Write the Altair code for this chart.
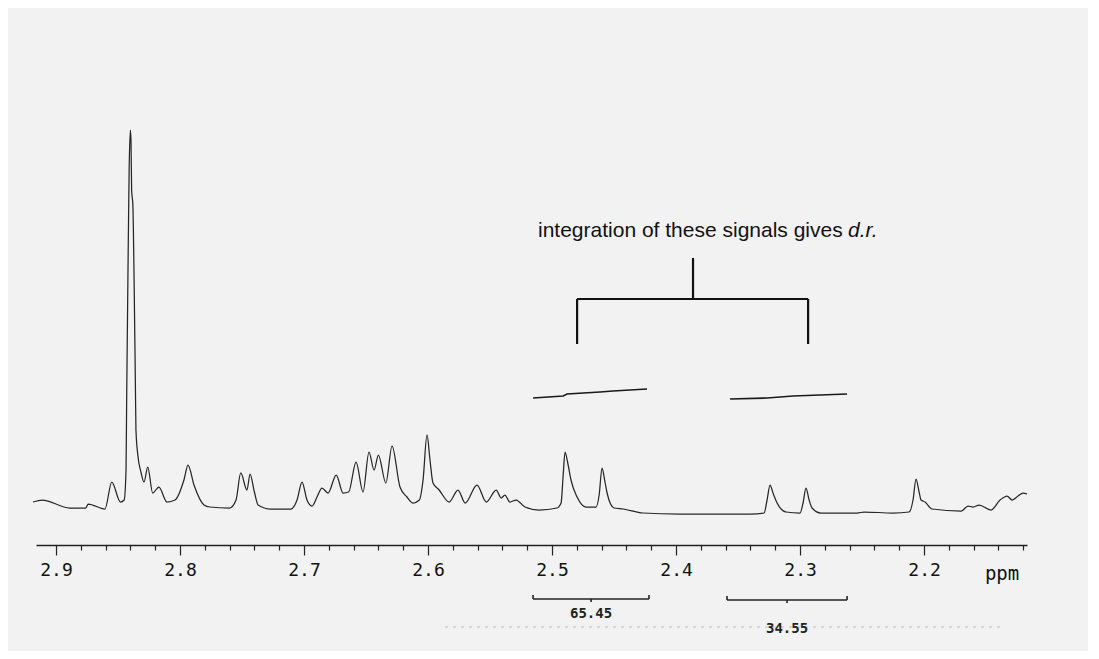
import altair as alt
import pandas as pd

# ---- spectrum trace (chemical shift in ppm, intensity in arbitrary units) ----
PPM = [2.9185, 2.911, 2.889, 2.876, 2.874, 2.8605, 2.855, 2.848, 2.845, 2.8435,
       2.843, 2.842, 2.841, 2.840, 2.8395, 2.839, 2.838, 2.837, 2.836, 2.8355,
       2.834, 2.8315, 2.829, 2.826, 2.822, 2.817, 2.8105, 2.804, 2.7968, 2.7935,
       2.7887, 2.7806, 2.776, 2.760, 2.7548, 2.751, 2.746, 2.7435, 2.740, 2.737,
       2.727, 2.7105, 2.7056, 2.7016, 2.6976, 2.6935, 2.6895, 2.6855, 2.6806, 2.674,
       2.6685, 2.664, 2.658, 2.6524, 2.6476, 2.6435, 2.640, 2.634, 2.629, 2.6226,
       2.617, 2.612, 2.607, 2.604, 2.6008, 2.5984, 2.596, 2.591, 2.583, 2.5758,
       2.570, 2.5605, 2.553, 2.545, 2.541, 2.538, 2.534, 2.529, 2.5218, 2.5105,
       2.496, 2.4927, 2.491, 2.4895, 2.487, 2.4847, 2.4798, 2.4726, 2.4645, 2.462,
       2.4597, 2.4573, 2.4556, 2.450, 2.4427, 2.4266, 2.3976, 2.3403, 2.329, 2.3266,
       2.3242, 2.3218, 2.3185, 2.3113, 2.300, 2.2976, 2.2952, 2.2927, 2.2903, 2.2831,
       2.254, 2.2484, 2.225, 2.2121, 2.2089, 2.2065, 2.204, 2.2024, 2.1992, 2.1935,
       2.170, 2.1645, 2.1605, 2.1556, 2.146, 2.1387, 2.1331, 2.129, 2.1242, 2.1202,
       2.1169]
INTENSITY = [18, 20, 12, 12, 16, 11, 38, 18, 20, 50,
             120, 240, 350, 390, 380, 330, 315, 240, 140, 90,
             65, 48, 38, 53, 27, 33, 18, 20, 40, 55,
             35, 15, 13, 12, 20, 47, 30, 46, 28, 15,
             11, 11, 20, 38, 20, 14, 23, 32, 27, 45,
             27, 28, 58, 28, 68, 50, 65, 37, 74, 33,
             23, 17, 20, 40, 85, 60, 37, 30, 18, 30,
             17, 35, 18, 30, 22, 25, 18, 20, 13, 10,
             12, 17, 45, 68, 55, 40, 23, 13, 13, 25,
             52, 38, 27, 12, 11, 7, 6, 6, 7, 20,
             35, 27, 17, 8, 7, 17, 32, 20, 12, 7,
             7, 8, 7, 8, 20, 41, 28, 20, 18, 11,
             9, 14, 13, 15, 10, 20, 24, 20, 24, 27,
             26]

# ---- axis ticks ----
MAJOR_TICKS = [2.9, 2.8, 2.7, 2.6, 2.5, 2.4, 2.3, 2.2]
MINOR_TICKS = [2.90, 2.88, 2.86, 2.84, 2.82, 2.80, 2.78, 2.76, 2.74, 2.72,
               2.70, 2.68, 2.66, 2.64, 2.62, 2.60, 2.58, 2.56, 2.54, 2.52,
               2.50, 2.48, 2.46, 2.44, 2.42, 2.40, 2.38, 2.36, 2.34, 2.32,
               2.30, 2.28, 2.26, 2.24, 2.22, 2.20, 2.18, 2.16, 2.14, 2.12]

# ---- annotation: bracket over the two signals ----
BR_X = [2.3863, 2.4798, 2.4798, 2.2935]
BR_X2 = [2.3863, 2.2935, 2.4798, 2.2935]
BR_Y = [262, 221, 221, 221]
BR_Y2 = [221, 221, 176, 176]

ANNOT_TEXT = ["integration of these signals gives ", "d.r."]
ANNOT_X = [2.5113, 2.2613]
ANNOT_Y = [283, 283]
ANNOT_STYLE = ["normal", "italic"]

# ---- integral traces ----
INT_SEG = ["a", "a", "a", "a", "a", "a", "b", "b", "b", "b"]
INT_PPM = [2.5153, 2.491, 2.4879, 2.4613, 2.4508, 2.4234, 2.3565, 2.3266, 2.3056, 2.2621]
INT_VAL = [122, 124, 126, 128, 129, 131, 121, 122, 124, 126]

# ---- integral readout brackets below axis ----
RO_X = [2.5153, 2.5153, 2.4218, 2.4685, 2.3589, 2.3589, 2.2621, 2.3105]
RO_X2 = [2.4218, 2.5153, 2.4218, 2.4685, 2.2621, 2.3589, 2.2621, 2.3105]
RO_Y = [-79, -79, -79, -79, -80, -80, -80, -80]
RO_Y2 = [-79, -75, -75, -82, -80, -76, -76, -83]
RO_LABEL = ["65.45", "34.55"]
RO_LABEL_X = [2.4685, 2.3105]
RO_LABEL_Y = [-98, -113]

UNIT_LABEL = ["ppm"]
UNIT_X = [2.1371]
UNIT_Y = [-60]

SCAN_LINE_X = [2.5863]
SCAN_LINE_X2 = [2.1387]
SCAN_LINE_Y = [-107]

spec = pd.DataFrame({"ppm": PPM, "I": INTENSITY})
br = pd.DataFrame({"x": BR_X, "x2": BR_X2, "y": BR_Y, "y2": BR_Y2})
ann = pd.DataFrame({"t": ANNOT_TEXT, "x": ANNOT_X, "y": ANNOT_Y, "s": ANNOT_STYLE})
integ = pd.DataFrame({"seg": INT_SEG, "ppm": INT_PPM, "v": INT_VAL})
ro = pd.DataFrame({"x": RO_X, "x2": RO_X2, "y": RO_Y, "y2": RO_Y2})
rol = pd.DataFrame({"t": RO_LABEL, "x": RO_LABEL_X, "y": RO_LABEL_Y})
unit = pd.DataFrame({"t": UNIT_LABEL, "x": UNIT_X, "y": UNIT_Y})
scan = pd.DataFrame({"x": SCAN_LINE_X, "x2": SCAN_LINE_X2, "y": SCAN_LINE_Y})

xs = alt.Scale(domain=[2.117, 2.9161], reverse=True, nice=False, zero=False)
ys = alt.Scale(domain=[-25, 510], nice=False, zero=False)

major_test = "abs(datum.value*10 - round(datum.value*10)) < 0.001"
x_axis = alt.Axis(
    values=MINOR_TICKS,
    labelExpr=f"{major_test} ? format(datum.value, '.1f') : ''",
    tickSize={"condition": {"test": major_test, "value": 10}, "value": 5},
    tickColor="#222", tickWidth=1.2,
    domainColor="#222", domainWidth=1.6,
    labelFont="DejaVu Sans Mono", labelFontSize=18, labelColor="#111",
    labelPadding=6, labelOverlap=False, labelFlush=False,
    grid=False, title=None, orient="bottom",
)


def X(field):
    return alt.X(field, scale=xs, axis=x_axis)


def Y(field):
    return alt.Y(field, scale=ys, axis=None)


spectrum = alt.Chart(spec).mark_line(
    color="#262626", strokeWidth=1.25, interpolate="monotone"
).encode(x=X("ppm:Q"), y=Y("I:Q"))


def seg_layer(df, width, color="#111", dash=None, opacity=1.0):
    kw = dict(color=color, strokeWidth=width, opacity=opacity)
    if dash:
        kw["strokeDash"] = dash
    enc = dict(x=X("x:Q"), x2="x2:Q", y=Y("y:Q"))
    if "y2" in df.columns:
        enc["y2"] = "y2:Q"
    return alt.Chart(df).mark_rule(**kw).encode(**enc)


bracket = seg_layer(br, 2.2)
readout = seg_layer(ro, 1.6, color="#222")
scanline = seg_layer(scan, 1, color="#999", dash=[3, 5], opacity=0.6)

annot_reg = alt.Chart(ann[ann.s == "normal"]).mark_text(
    font="Liberation Sans", fontSize=21, align="left", baseline="alphabetic", color="#111"
).encode(x=X("x:Q"), y=Y("y:Q"), text="t:N")
annot_it = alt.Chart(ann[ann.s == "italic"]).mark_text(
    font="Liberation Sans", fontSize=21, fontStyle="italic", align="left",
    baseline="alphabetic", color="#111"
).encode(x=X("x:Q"), y=Y("y:Q"), text="t:N")

integrals = alt.Chart(integ).mark_line(color="#1a1a1a", strokeWidth=1.7).encode(
    x=X("ppm:Q"), y=Y("v:Q"), detail="seg:N",
)

ro_text = alt.Chart(rol).mark_text(
    font="DejaVu Sans Mono", fontSize=14, fontWeight="bold", align="center",
    baseline="alphabetic", color="#222"
).encode(x=X("x:Q"), y=Y("y:Q"), text="t:N")

unit_text = alt.Chart(unit).mark_text(
    font="DejaVu Sans Mono", fontSize=19, align="center", baseline="alphabetic", color="#111"
).encode(x=X("x:Q"), y=Y("y:Q"), text="t:N")

chart = alt.layer(
    spectrum, scanline, bracket, annot_reg, annot_it, integrals, readout, ro_text, unit_text
).properties(
    width=991, height=535,
    autosize=alt.AutoSizeParams(type="none"),
    padding={"left": 28, "top": 2, "right": 61, "bottom": 106},
    background="#f2f2f2",
).configure_view(stroke=None)

chart.save("out.html", embed_options={"renderer": "svg", "actions": False})
